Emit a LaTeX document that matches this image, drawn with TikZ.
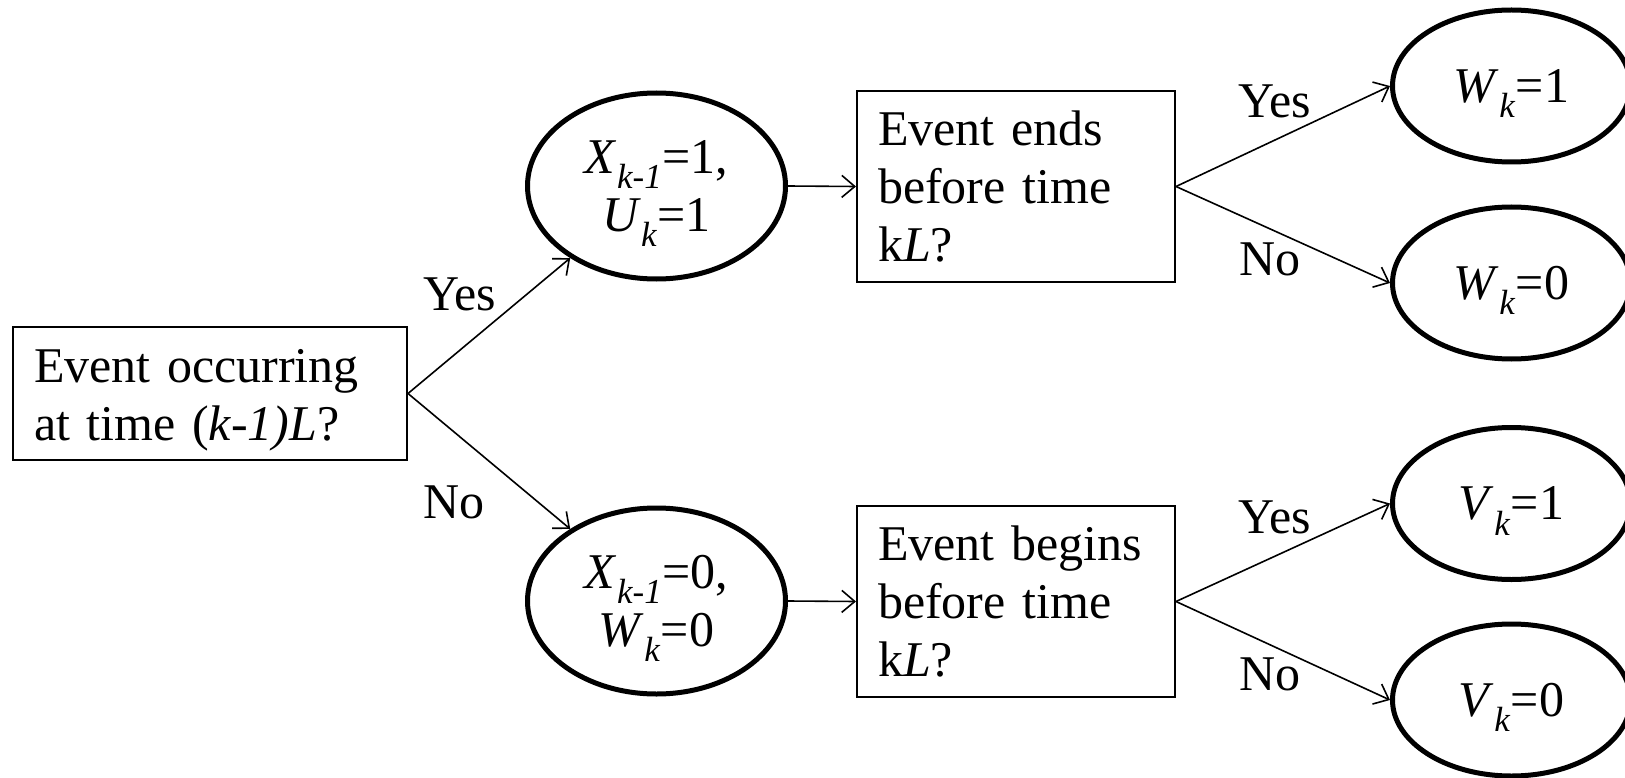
\documentclass[tikz,border=0pt]{standalone}
\usepackage{fontspec}
\setmainfont{Liberation Serif}
\usetikzlibrary{shapes.geometric,arrows.meta}
% italic symbol with an italic subscript that does not add to the line depth
\newcommand{\sub}[2]{\textit{#1}\smash{\textsubscript{\textit{#2}}}}
\begin{document}
\begin{tikzpicture}[x=1pt,y=-1pt,
  every node/.style={font=\fontsize{50}{58}\selectfont},
  question/.style={draw,line width=2pt,rectangle,inner xsep=21pt,inner ysep=0pt,
    align=left,minimum height=191pt,minimum width=318pt,text width=276pt},
  state/.style={draw,line width=5pt,ellipse,inner sep=0pt,align=center},
  bigstate/.style={state,minimum width=258pt,minimum height=186pt},
  leaf/.style={state,minimum width=238pt,minimum height=152pt},
  link/.style={line width=1.6pt,-{Straight Barb[length=13pt,width=22pt,line width=1.6pt]}},
  answer/.style={anchor=base,inner sep=0pt}]
\useasboundingbox (0,0) rectangle (1625,778);

% root question
\node[question,minimum width=394pt,minimum height=133pt,text width=352pt,text depth=55pt]
  (root) at (210,393.5) {Event occurring\\at time (\textit{k-1)L}?};

% states after the first decision
\node[bigstate] (c1) at (656.5,186) {\sub{X}{k-1}=1,\\\sub{U}{k}=1};
\node[bigstate] (c2) at (656.5,601) {\sub{X}{k-1}=0,\\\sub{W}{k}=0};

% second-level questions
\node[question] (q1) at (1016,186.5) {Event ends\\before time\\k\textit{L}?};
\node[question] (q2) at (1016,601.5) {Event begins\\before time\\k\textit{L}?};

% outcomes
\node[leaf] (w1) at (1511.5,86)  {\sub{W}{k}=1};
\node[leaf] (w0) at (1511.5,283) {\sub{W}{k}=0};
\node[leaf] (v1) at (1511.5,503.5) {\sub{V}{k}=1};
\node[leaf] (v0) at (1511.5,700) {\sub{V}{k}=0};

% connectors
\draw[link] (root.east) -- (c1);
\draw[link] (root.east) -- (c2);
\draw[link] (c1.east) -- (q1.west);
\draw[link] (c2.east) -- (q2.west);
\draw[link] (q1.east) -- (w1.west);
\draw[link] (q1.east) -- (w0.west);
\draw[link] (q2.east) -- (v1.west);
\draw[link] (q2.east) -- (v0.west);

% branch labels
\node[answer] (yes1) at (460,310) {Yes};
\node[answer] (no1)  at (454,518) {No};
\node[answer] (yes2) at (1275,118) {Yes};
\node[answer] (no2)  at (1270,275) {No};
\node[answer] (yes3) at (1275,533) {Yes};
\node[answer] (no3)  at (1270,690) {No};
\end{tikzpicture}
\end{document}
